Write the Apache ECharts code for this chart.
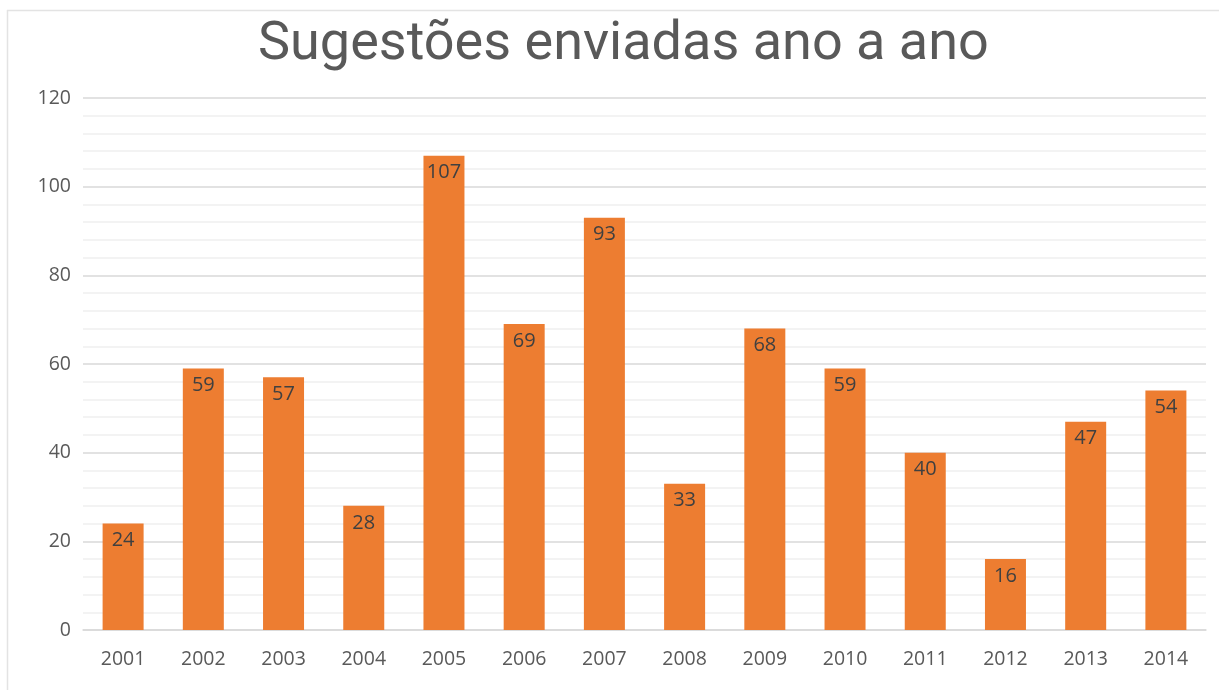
<!DOCTYPE html>
<html><head><meta charset="utf-8">
<script src="https://cdn.jsdelivr.net/npm/echarts@6/dist/echarts.min.js"></script>
<style>html,body{margin:0;padding:0;background:#fff}#c{width:1219px;height:690px}</style>
</head><body><div id="c"></div>
<script>
const years = ['2001','2002','2003','2004','2005','2006','2007','2008','2009','2010','2011','2012','2013','2014'];
const values = [24,59,57,28,107,69,93,33,68,59,40,16,47,54];
const titleText = 'Sugestões enviadas ano a ano';

const chart = echarts.init(document.getElementById('c'), null, {renderer:'canvas'});
chart.setOption({
  animation:false,
  backgroundColor:'#fff',
  title:{text:titleText,left:253,top:13,
    textStyle:{fontFamily:'Roboto, Arial, sans-serif',fontSize:54,fontWeight:'normal',color:'#595959'}},
  graphic:[
    {type:'line',shape:{x1:7,y1:10.5,x2:1219,y2:10.5},style:{stroke:'#e3e3e3',lineWidth:1.5}},
    {type:'line',shape:{x1:7.5,y1:10,x2:7.5,y2:690},style:{stroke:'#e3e3e3',lineWidth:1.5}}
  ],
  grid:{left:83,right:13,top:98,bottom:60},
  xAxis:{type:'category',data:years,
    axisLine:{lineStyle:{color:'#d9d9d9',width:1.5}},axisTick:{show:false},
    axisLabel:{color:'#595959',fontSize:19.5,margin:19,fontFamily:'"Open Sans", Arial, sans-serif'}},
  yAxis:{type:'value',min:0,max:120,interval:20,
    axisLine:{show:false},axisTick:{show:false},
    axisLabel:{color:'#595959',fontSize:19.5,margin:12,fontFamily:'"Open Sans", Arial, sans-serif'},
    splitLine:{lineStyle:{color:'#d9d9d9',width:1.5}},
    minorTick:{show:false,splitNumber:5},
    minorSplitLine:{show:true,lineStyle:{color:'#efefef',width:1.5}}},
  series:[{type:'bar',data:values,barWidth:41,
    itemStyle:{color:'#ed7d31'},
    label:{show:true,position:'insideTop',distance:7,color:'#404040',fontSize:20,
      fontFamily:'"Open Sans", Arial, sans-serif'}}]
});
</script></body></html>
